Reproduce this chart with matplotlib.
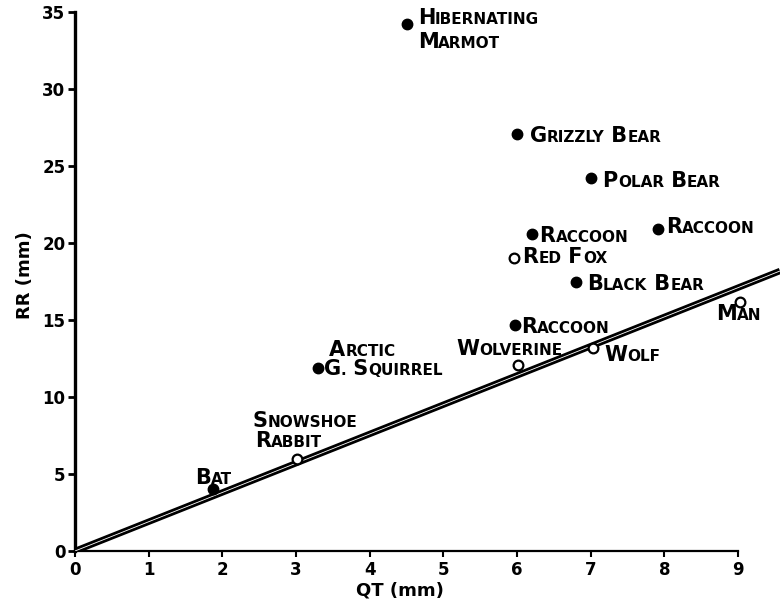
import numpy as np
import matplotlib.pyplot as plt
from matplotlib.offsetbox import TextArea, HPacker, VPacker, AnnotationBbox

# ----------------------------
# Data
# ----------------------------
names = ["HIBERNATING\nMARMOT", "GRIZZLY BEAR", "POLAR BEAR", "RACCOON", "RACCOON",
         "RED FOX", "BLACK BEAR", "RACCOON", "WOLVERINE", "WOLF", "MAN",
         "ARCTIC\nG. SQUIRREL", "SNOWSHOE\nRABBIT", "BAT"]
qt = [4.50, 6.00, 7.01, 6.21, 7.91, 5.96, 6.80, 5.97, 6.02, 7.03, 9.02, 3.30, 3.01, 1.87]
rr = [34.2, 27.1, 24.2, 20.6, 20.9, 19.0, 17.5, 14.7, 12.1, 13.2, 16.2, 11.9, 6.0, 4.0]
hibernator = [True, True, True, True, True, False, True, True, False, False, False,
              True, False, True]

slope = 1.9  # RR = slope * QT

x_ticks = np.arange(0, 10)
y_ticks = np.arange(0, 36, 5)

# label offsets (points) from each point, left edge / vertical centre of the text
offsets = [(8, -4), (9, -1.5), (8, -2), (5, -1.5), (6, 1.5), (6, 1), (8, -1.5),
           (4.5, -1.5), (-45, 11), (8, -5), (-17, -9), (4, 6), (-30, 20), (-13, 8.5)]

FONT = "DejaVu Sans"
BIG, SMALL = 15, 11


def small_caps(text):
    """Build an offsetbox with hand-lettering style small caps."""
    rows = []
    for line in text.split("\n"):
        parts = []
        for i, word in enumerate(line.split(" ")):
            lead = (" " if i else "") + word[0]
            parts.append(TextArea(lead, textprops=dict(fontsize=BIG, fontweight="bold", family=FONT)))
            if len(word) > 1:
                parts.append(TextArea(word[1:], textprops=dict(fontsize=SMALL, fontweight="bold", family=FONT)))
        rows.append(HPacker(children=parts, align="baseline", pad=0, sep=0))
    if len(rows) == 1:
        return rows[0]
    return VPacker(children=rows, align="left", pad=0, sep=3)


# ----------------------------
# Figure
# ----------------------------
fig = plt.figure(figsize=(7.8, 6.09), dpi=100)
ax = fig.add_axes([75 / 780, 58 / 609, 705 / 780, 551 / 609])

xmax = 705 / 73.67
ymax = 551 / 15.4
ax.set_xlim(0, xmax)
ax.set_ylim(0, ymax)

# regression line: thick black with a thin white core
xl = np.array([0, xmax])
ax.plot(xl, slope * xl, color="black", lw=4.6, solid_capstyle="butt", zorder=2)
ax.plot(xl, slope * xl, color="white", lw=0.6, solid_capstyle="butt", zorder=3)

for x, y, h in zip(qt, rr, hibernator):
    if h:
        ax.plot(x, y, "o", ms=7.5, color="black", zorder=4, clip_on=False)
    else:
        ax.plot(x, y, "o", ms=7, mfc="white", mec="black", mew=1.6, zorder=4, clip_on=False)

for name, x, y, off in zip(names, qt, rr, offsets):
    if name.startswith(("ARCTIC", "SNOWSHOE")):
        # these two-line labels have each line placed on its own
        top, bottom = name.split("\n")
        shift = 4 if name.startswith("ARCTIC") else -2
        for txt, dx, dy in [(top, off[0] + shift, off[1] + 7), (bottom, off[0], off[1] - 7)]:
            ab = AnnotationBbox(small_caps(txt), (x, y), xybox=(dx, dy), boxcoords="offset points",
                                box_alignment=(0, 0.5), frameon=False, pad=0)
            ax.add_artist(ab)
        continue
    ab = AnnotationBbox(small_caps(name), (x, y), xybox=off, boxcoords="offset points",
                        box_alignment=(0, 0.5), frameon=False, pad=0)
    ax.add_artist(ab)

# ----------------------------
# Axes styling
# ----------------------------
ax.spines["top"].set_visible(False)
ax.spines["right"].set_visible(False)
ax.spines["left"].set_linewidth(2.4)
ax.spines["bottom"].set_linewidth(1.6)
ax.spines["left"].set_bounds(0, 35)
ax.spines["bottom"].set_bounds(0, 9)

ax.set_xticks(x_ticks)
ax.set_yticks(y_ticks)
ax.tick_params(axis="y", direction="out", length=5, width=2, pad=2, labelsize=12)
ax.tick_params(axis="x", direction="out", length=4, width=1.5, pad=3, labelsize=12)
for lab in ax.get_xticklabels() + ax.get_yticklabels():
    lab.set_fontweight("bold")

ax.set_xlabel("QT (mm)", fontsize=13, fontweight="bold", labelpad=1)
ax.xaxis.set_label_coords(4.41 / xmax, -0.055)
ax.set_ylabel("RR (mm)", fontsize=13, fontweight="bold", labelpad=6)

fig.savefig("out.png", dpi=100)
